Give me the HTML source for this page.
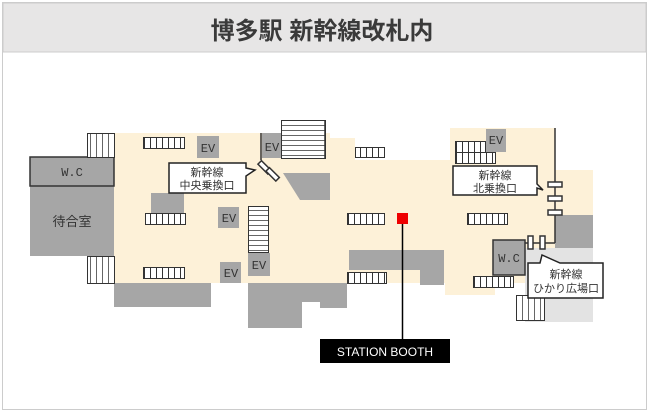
<!DOCTYPE html>
<html><head><meta charset="utf-8"><style>
body{margin:0;background:#fff;}
svg{display:block;font-family:"Liberation Sans","Noto Sans CJK JP",sans-serif;}
</style></head><body>
<svg width="650" height="412" viewBox="0 0 650 412" xmlns="http://www.w3.org/2000/svg">
<defs>
<pattern id="esc" width="6" height="12" patternUnits="userSpaceOnUse"><rect width="6" height="12" fill="#fff"/><line x1="0.5" y1="0" x2="0.5" y2="12" stroke="#333" stroke-width="1"/></pattern>
<pattern id="stv" width="6" height="30" patternUnits="userSpaceOnUse"><rect width="6" height="30" fill="#fff"/><line x1="0.5" y1="0" x2="0.5" y2="30" stroke="#666" stroke-width="1"/></pattern>
<pattern id="sth" width="40" height="5" patternUnits="userSpaceOnUse"><rect width="40" height="5" fill="#fff"/><line x1="0" y1="0.5" x2="40" y2="0.5" stroke="#666" stroke-width="1"/></pattern>
</defs>
<rect x="2.5" y="2.5" width="644" height="407" fill="#fff" stroke="#ccc"/>
<rect x="3" y="3" width="643" height="49" fill="#e7e6e6" stroke="#ccc"/>
<text x="322" y="39" font-size="24" font-weight="bold" fill="#3a3a3a" text-anchor="middle">博多駅 新幹線改札内</text>

<!-- cream floor -->
<g fill="#fdf1d8">
<rect x="114" y="133" width="216" height="150"/>
<rect x="330" y="138" width="25" height="145"/>
<rect x="355" y="160" width="100" height="123"/>
<rect x="450" y="128" width="105" height="155"/>
<rect x="553" y="170" width="40" height="45"/>
<rect x="445" y="283" width="50" height="12"/>
<rect x="114" y="270" width="440" height="13"/>
</g>
<rect x="330" y="100" width="0" height="0"/>
<!-- gray blocks -->
<g fill="#a6a6a6">
<rect x="30" y="186" width="84" height="70"/>
<rect x="151" y="193" width="33" height="20"/>
<rect x="114" y="283" width="97" height="24"/>
<rect x="248" y="283" width="82" height="19"/>
<rect x="248" y="283" width="54" height="45"/>
<polygon points="283,173 330,173 330,200 300,200"/>
<rect x="349" y="250" width="95" height="20"/>
<rect x="420" y="250" width="24" height="35"/>
<rect x="320" y="283" width="27" height="25"/>
<rect x="555" y="215" width="38" height="33"/>
<rect x="197" y="136" width="22" height="22"/>
<rect x="218" y="207" width="21" height="21"/>
<rect x="220" y="262" width="21" height="21"/>
<rect x="248" y="253" width="22" height="23"/>
<rect x="262" y="133" width="21" height="25"/>
<rect x="486" y="129" width="20" height="23"/>
</g>
<rect x="525" y="248" width="68" height="74" fill="#e3e3e3"/>
<rect x="30" y="157" width="84" height="29" fill="#a6a6a6" stroke="#333" stroke-width="1.5"/>
<rect x="493" y="240" width="32" height="35" fill="#a6a6a6" stroke="#333" stroke-width="1.5"/>
<g font-size="12" fill="#333" text-anchor="middle" font-family="Liberation Mono,monospace">
<text x="72" y="176">W.C</text>
<text x="509" y="262">W.C</text>
<text x="208" y="152">EV</text>
<text x="229" y="222">EV</text>
<text x="231" y="277">EV</text>
<text x="259" y="269">EV</text>
<text x="272" y="151">EV</text>
<text x="496" y="144">EV</text>
</g>
<text x="72" y="226" font-size="13" fill="#333" text-anchor="middle">待合室</text>
<line x1="261" y1="133" x2="261" y2="160" stroke="#333" stroke-width="1.5"/>
<!-- escalators -->
<g stroke="#333" stroke-width="1">
<rect x="143.5" y="137.5" width="41" height="11" fill="url(#esc)"/>
<rect x="145.5" y="213.5" width="40" height="11" fill="url(#esc)"/>
<rect x="143.5" y="267.5" width="41" height="11" fill="url(#esc)"/>
<rect x="355.5" y="147.5" width="29" height="10" fill="url(#esc)"/>
<rect x="347.5" y="213.5" width="37" height="11" fill="url(#esc)"/>
<rect x="467.5" y="213.5" width="40" height="11" fill="url(#esc)"/>
<rect x="347.5" y="272.5" width="39" height="11" fill="url(#esc)"/>
<rect x="473.5" y="276.5" width="40" height="11" fill="url(#esc)"/>
<rect x="455.5" y="141.5" width="30" height="11" fill="url(#esc)"/>
<rect x="455.5" y="152.5" width="40" height="11" fill="url(#esc)"/>
<rect x="87.5" y="133.5" width="27" height="24" fill="url(#stv)"/>
<rect x="87.5" y="256.5" width="27" height="27" fill="url(#stv)"/>
<rect x="281.5" y="120.5" width="44" height="38" fill="url(#sth)"/>
<rect x="248.5" y="206.5" width="20" height="46" fill="url(#sth)"/>
<rect x="516.5" y="295.5" width="28" height="25" fill="url(#stv)"/>
</g>
<line x1="325" y1="120" x2="325" y2="158" stroke="#333" stroke-width="1.5"/>
<!-- gates -->
<g stroke="#333" stroke-width="1.5" fill="#fff">
<rect x="258" y="165" width="14" height="5" transform="rotate(45 265 167)"/>
<rect x="266" y="172" width="14" height="5" transform="rotate(45 273 174)"/>
<line x1="555" y1="128" x2="555" y2="243" fill="none"/>
<line x1="525" y1="243" x2="555" y2="243" fill="none"/>
<rect x="548" y="182" width="14" height="5"/>
<rect x="548" y="196" width="14" height="5"/>
<rect x="548" y="210" width="14" height="5"/>
<rect x="528" y="236" width="5" height="13"/>
<rect x="540" y="236" width="5" height="13"/>
</g>
<!-- callouts -->
<g fill="#fff" stroke="#222" stroke-width="1.5">
<polygon points="169,163 246,163 246,168 255,170 246,176 246,193 169,193"/>
<polygon points="453,166 537,166 537,184 543,190 537,188 537,195 453,195"/>
<polygon points="528,263 540,263 542,255 560,263 603,263 603,298 528,298"/>
</g>
<g font-size="11" fill="#333" text-anchor="middle">
<text x="207" y="176">新幹線</text><text x="207" y="189">中央乗換口</text>
<text x="495" y="179">新幹線</text><text x="495" y="192">北乗換口</text>
<text x="566" y="278">新幹線</text><text x="566" y="292">ひかり広場口</text>
</g>
<!-- booth -->
<rect x="397" y="213" width="11" height="11" fill="#e00"/>
<line x1="402.5" y1="224" x2="402.5" y2="340" stroke="#000" stroke-width="1.5"/>
<rect x="320" y="339" width="130" height="24" fill="#000"/>
<text x="385" y="356" font-size="12" fill="#fff" text-anchor="middle">STATION BOOTH</text>
</svg>
</body></html>
